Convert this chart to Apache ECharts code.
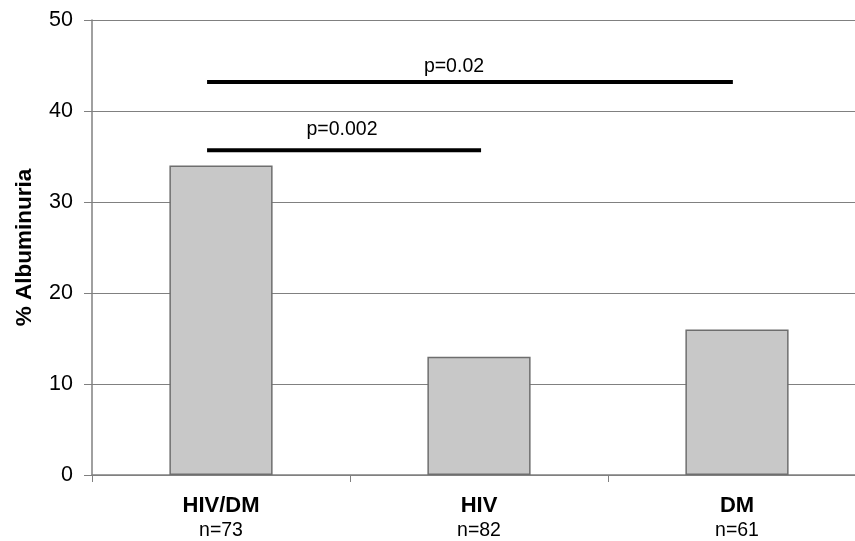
<!DOCTYPE html>
<html>
<head>
<meta charset="utf-8">
<script src="https://cdn.jsdelivr.net/npm/echarts@6/dist/echarts.min.js"></script>
<style>
html,body{margin:0;padding:0;background:#fff;}
#chart{width:855px;height:541px;}
</style>
</head>
<body>
<div id="chart"></div>
<script>
const categories = ['HIV/DM', 'HIV', 'DM'];
const sampleSizes = ['n=73', 'n=82', 'n=61'];
const albuminuria = [34, 13, 16];
const yMin = 0, yMax = 50, yStep = 10;

// significance bars (x in category-index units)
const pLabels = ['p=0.002', 'p=0.02'];
const pLineY = [35.7, 43.2];
const pLineStart = [-0.054, -0.054];
const pLineEnd = [1.008, 1.984];
const pLabelX = [0.469, 0.903];
const pLabelY = [37.9, 44.9];

const FONT = 'Liberation Sans, Arial, sans-serif';
const chart = echarts.init(document.getElementById('chart'));

const pSeries = pLabels.map((lbl, i) => ({
  type: 'line',
  xAxisIndex: 1,
  yAxisIndex: 0,
  symbol: 'none',
  silent: true,
  animation: false,
  clip: false,
  lineStyle: { color: '#000', width: 4 },
  data: [[pLineStart[i], pLineY[i]], [pLineEnd[i], pLineY[i]]]
}));

const labelSeries = {
  type: 'scatter',
  xAxisIndex: 1,
  yAxisIndex: 0,
  symbolSize: 0,
  silent: true,
  animation: false,
  itemStyle: { opacity: 1, color: '#000' },
  label: {
    show: true,
    position: 'inside',
    formatter: p => p.name,
    color: '#000',
    opacity: 1,
    textBorderWidth: 0,
    fontSize: 19.5,
    fontFamily: FONT
  },
  data: pLabels.map((lbl, i) => ({ name: lbl, value: [pLabelX[i], pLabelY[i]] }))
};

chart.setOption({
  animation: false,
  backgroundColor: '#fff',
  grid: { left: 92, top: 20, width: 774, height: 455, containLabel: false, outerBoundsMode: 'none' },
  xAxis: [
    {
      type: 'category',
      data: categories,
      boundaryGap: true,
      axisLine: { onZero: false, lineStyle: { color: '#808080', width: 1.5 } },
      axisTick: { show: true, length: 7, lineStyle: { color: '#808080' } },
      axisLabel: {
        margin: 18,
        interval: 0,
        formatter: (v, idx) => '{b|' + v + '}\n{n|' + sampleSizes[idx] + '}',
        rich: {
          b: { fontSize: 22, fontWeight: 'bold', color: '#000', fontFamily: FONT, lineHeight: 25 },
          n: { fontSize: 19.5, color: '#000', fontFamily: FONT, lineHeight: 25 }
        }
      },
      splitLine: { show: false }
    },
    {
      type: 'value',
      min: -0.5,
      max: 2.5,
      show: false,
      axisLine: { show: false, onZero: false },
      splitLine: { show: false }
    }
  ],
  yAxis: {
    type: 'value',
    min: yMin,
    max: yMax,
    interval: yStep,
    name: '% Albuminuria',
    nameLocation: 'middle',
    nameGap: 56,
    nameTextStyle: { fontSize: 22.5, fontWeight: 'bold', color: '#000', fontFamily: FONT },
    axisLine: { show: true, onZero: false, lineStyle: { color: '#808080', width: 1.5 } },
    axisTick: { show: true, length: 8, lineStyle: { color: '#808080' } },
    axisLabel: { fontSize: 21.5, color: '#000', margin: 19, fontFamily: FONT },
    splitLine: { show: true, lineStyle: { color: '#808080', width: 1.2 } }
  },
  series: [
    {
      type: 'bar',
      xAxisIndex: 0,
      data: albuminuria,
      barWidth: '40%',
      itemStyle: { color: '#c8c8c8', borderColor: '#6e6e6e', borderWidth: 1.5 },
      z: 2
    },
    ...pSeries,
    labelSeries
  ]
});
</script>
</body>
</html>
